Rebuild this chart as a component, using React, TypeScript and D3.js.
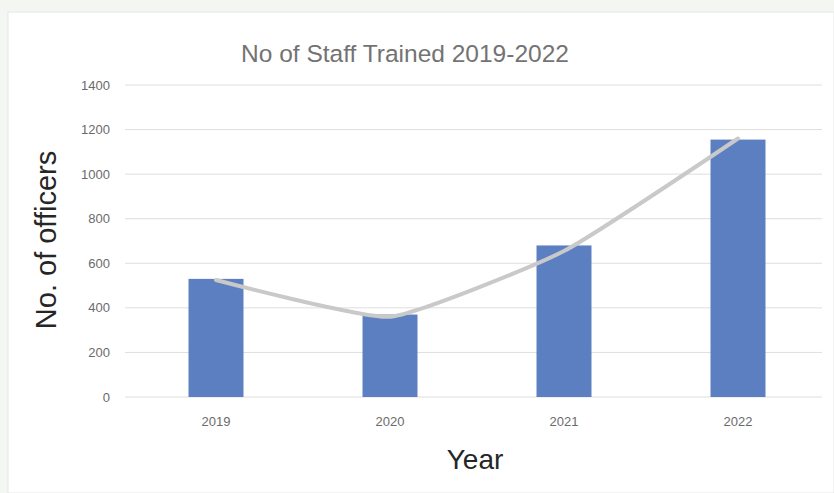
import React from "react";
import * as d3 from "d3";

const categories = ["2019", "2020", "2021", "2022"];
const barValues = [530, 370, 680, 1155];
const lineValues = [525, 360, 655, 1160];
const yTicks = [0, 200, 400, 600, 800, 1000, 1200, 1400];
const title = "No of Staff Trained 2019-2022";
const xTitle = "Year";
const yTitle = "No. of officers";

const W = 834;
const H = 493;
const FONT = "'Liberation Sans', Arial, sans-serif";

export default function App() {
  const x = d3
    .scaleBand<string>()
    .domain(categories)
    .range([129, 825])
    .paddingInner(0.684)
    .paddingOuter(0.342);
  const y = d3.scaleLinear().domain([0, 1400]).range([397, 85]);

  const line = d3
    .line<number>()
    .x((_, i) => (x(categories[i]) as number) + x.bandwidth() / 2)
    .y((d) => y(d))
    .curve(d3.curveCardinal.tension(0.55));

  return (
    <svg
      width={W}
      height={H}
      style={{ position: "absolute", left: 0, top: 0, display: "block" }}
    >
      <rect x={0} y={0} width={W} height={H} fill="#f3f6f1" />
      <rect x={8} y={12} width={W - 8} height={H - 12} fill="#ffffff" stroke="#e6e6e6" />
      <text
        x={405}
        y={62}
        textAnchor="middle"
        fontFamily={FONT}
        fontSize={24.5}
        fill="#737373"
      >
        {title}
      </text>
      {yTicks.map((t) => (
        <g key={t}>
          <line x1={125} x2={822} y1={y(t)} y2={y(t)} stroke="#dedede" strokeWidth={1} />
          <text
            x={110}
            y={y(t)}
            dy="0.35em"
            textAnchor="end"
            fontFamily={FONT}
            fontSize={13}
            fill="#6b6b6b"
          >
            {t}
          </text>
        </g>
      ))}
      {categories.map((c, i) => (
        <rect
          key={c}
          x={x(c)}
          y={y(barValues[i])}
          width={x.bandwidth()}
          height={y(0) - y(barValues[i])}
          fill="#5b7fc0"
        />
      ))}
      <path
        d={line(lineValues) || ""}
        fill="none"
        stroke="#c9c9c9"
        strokeWidth={4}
        strokeLinecap="round"
      />
      {categories.map((c) => (
        <text
          key={c}
          x={(x(c) as number) + x.bandwidth() / 2}
          y={426}
          textAnchor="middle"
          fontFamily={FONT}
          fontSize={13}
          fill="#6b6b6b"
        >
          {c}
        </text>
      ))}
      <text
        x={475}
        y={469}
        textAnchor="middle"
        fontFamily={FONT}
        fontSize={28}
        fill="#262626"
      >
        {xTitle}
      </text>
      <text
        transform="translate(56,240) rotate(-90)"
        textAnchor="middle"
        fontFamily={FONT}
        fontSize={29}
        fill="#262626"
      >
        {yTitle}
      </text>
    </svg>
  );
}
